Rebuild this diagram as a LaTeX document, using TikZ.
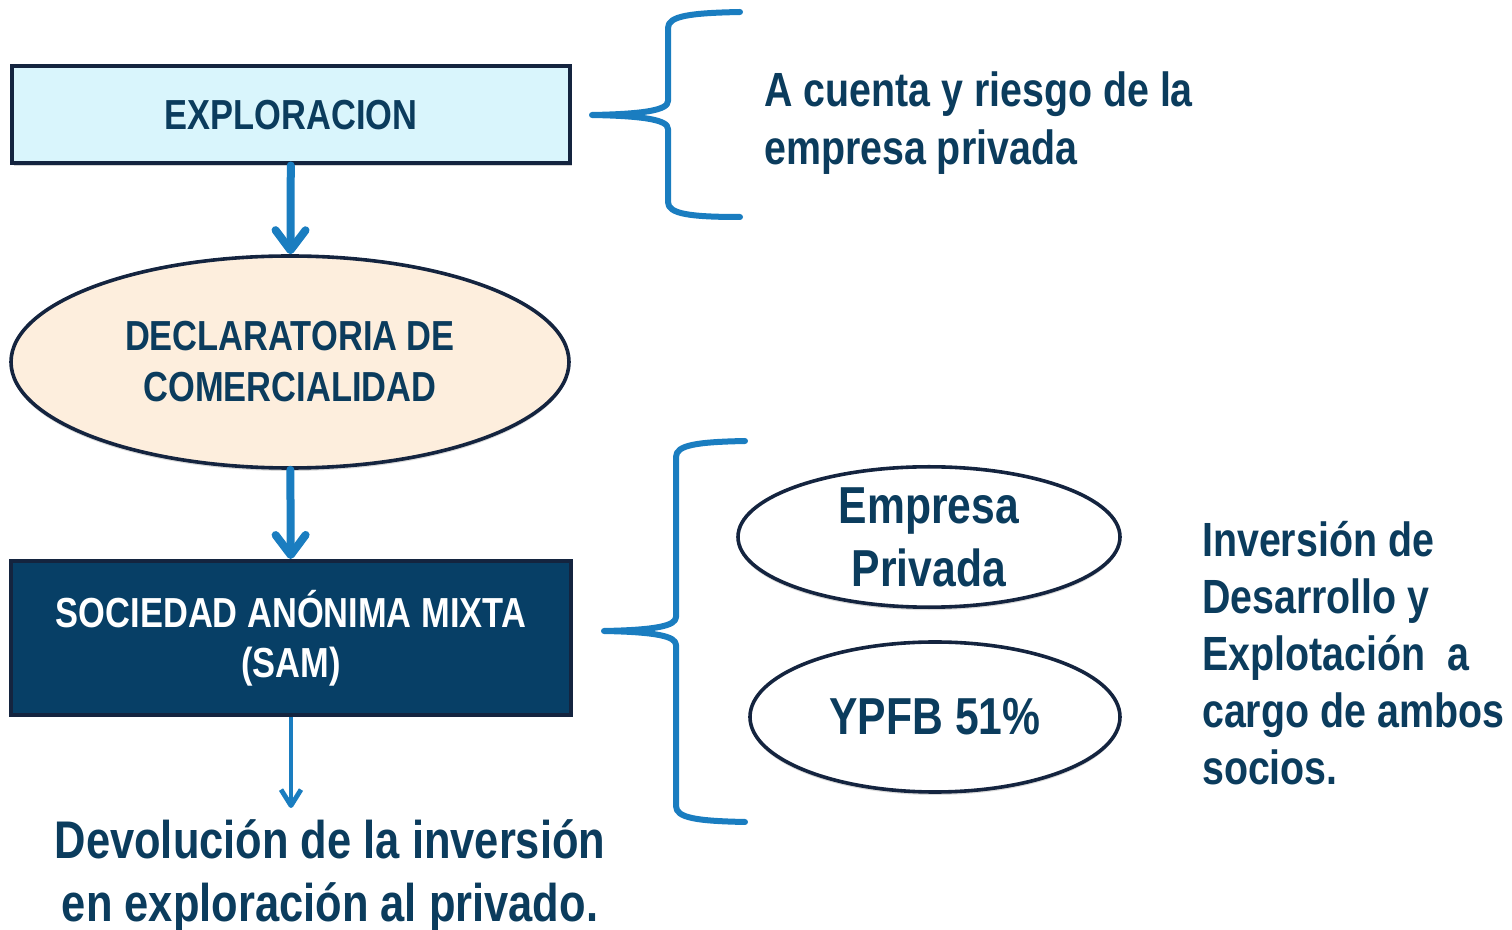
\documentclass[tikz,border=0pt]{standalone}
\usepackage{fontspec}
\setmainfont{Liberation Sans}[FakeStretch=0.82]
\usepackage{xcolor}
\usetikzlibrary{shapes.geometric, arrows.meta, positioning, shadows}

\definecolor{navytext}{HTML}{0B3C5D}
\definecolor{navyline}{HTML}{14243F}
\definecolor{celeste}{HTML}{D9F5FC}
\definecolor{durazno}{HTML}{FDEEDD}
\definecolor{samfill}{HTML}{073F66}
\definecolor{azul}{HTML}{1A7DC0}

\begin{document}
\begin{tikzpicture}[x=0.5pt, y=-0.5pt, line width=0.5pt, font=\bfseries,
    caja/.style={rectangle, draw=navyline, line width=2pt, inner sep=0pt,
      drop shadow={opacity=0.35, shadow xshift=0.8pt, shadow yshift=-1.2pt}},
    ovalo/.style={ellipse, draw=navyline, line width=1.8pt, inner sep=0pt,
      drop shadow={opacity=0.3, shadow xshift=0pt, shadow yshift=-1.5pt}},
    flecha/.style={draw=azul, line width=4pt, line cap=round,
      -{Straight Barb[length=10pt, width=15pt, line cap=round, line join=round]}},
    llave/.style={draw=azul, line width=3pt, line cap=round, line join=round}]
        \useasboundingbox (0,0) rectangle (1512,930);

        % columna izquierda
        \node [caja, fill=celeste, minimum width=279pt, minimum height=48.5pt, text=navytext,
          font=\bfseries\fontsize{21}{25.5}\selectfont] (exploracion) at (291, 115) {EXPLORACION};
        \node [ovalo, fill=durazno, minimum width=279pt, minimum height=106pt, text=navytext, align=center,
          font=\bfseries\fontsize{21}{25.5}\selectfont] (declaratoria) at (290, 362) {DECLARATORIA DE\\COMERCIALIDAD};
        \node [caja, fill=samfill, minimum width=280pt, minimum height=77pt, text=white, align=center,
          font=\bfseries\fontsize{21}{25}\selectfont] (sam) at (291, 638) {SOCIEDAD ANÓNIMA MIXTA\\(SAM)};
        \node [text=navytext, align=center, font=\bfseries\fontsize{26.5}{31.5}\selectfont]
          (devolucion) at (330, 876) {Devolución de la inversión\\en exploración al privado.};
        \coordinate (fin) at (291, 808);

        \path [flecha] (exploracion) -- (declaratoria);
        \path [flecha] (declaratoria) -- (sam);
        \path [draw=azul, line width=2.4pt, -{Straight Barb[length=8pt, width=10pt, line join=round]}] (sam) -- (fin);

        % llaves
        \draw [llave] (740,12) .. controls (690,13) and (668,16) .. (668,28) -- (668,101)
          .. controls (668,110) and (645,114) .. (592,115)
          .. controls (645,116) and (668,120) .. (668,129) -- (668,202)
          .. controls (668,214) and (690,217) .. (740,217);
        \draw [llave] (745,441) .. controls (697,442) and (676,445) .. (676,457) -- (676,617)
          .. controls (676,626) and (655,630) .. (604,631)
          .. controls (655,632) and (676,636) .. (676,645) -- (676,806)
          .. controls (676,818) and (697,821) .. (745,822);

        % columna derecha
        \node [anchor=west, text=navytext, align=left, font=\bfseries\fontsize{24}{29}\selectfont]
          (riesgo) at (757, 123) {A cuenta y riesgo de la\\empresa privada};
        \node [ovalo, fill=white, minimum width=191pt, minimum height=68pt, text=navytext, align=center,
          font=\bfseries\fontsize{26}{31.5}\selectfont] (privada) at (929, 537) {Empresa\\Privada};
        \node [ovalo, fill=white, minimum width=185pt, minimum height=75pt, text=navytext,
          font=\bfseries\fontsize{26}{31.5}\selectfont] (ypfb) at (935, 717) {YPFB 51\%};
        \node [anchor=west, text=navytext, align=left, font=\bfseries\fontsize{24}{28.5}\selectfont]
          (inversion) at (1195, 653) {Inversión de\\Desarrollo y\\Explotación~ a\\cargo de ambos\\socios.};
    \end{tikzpicture}
\end{document}
